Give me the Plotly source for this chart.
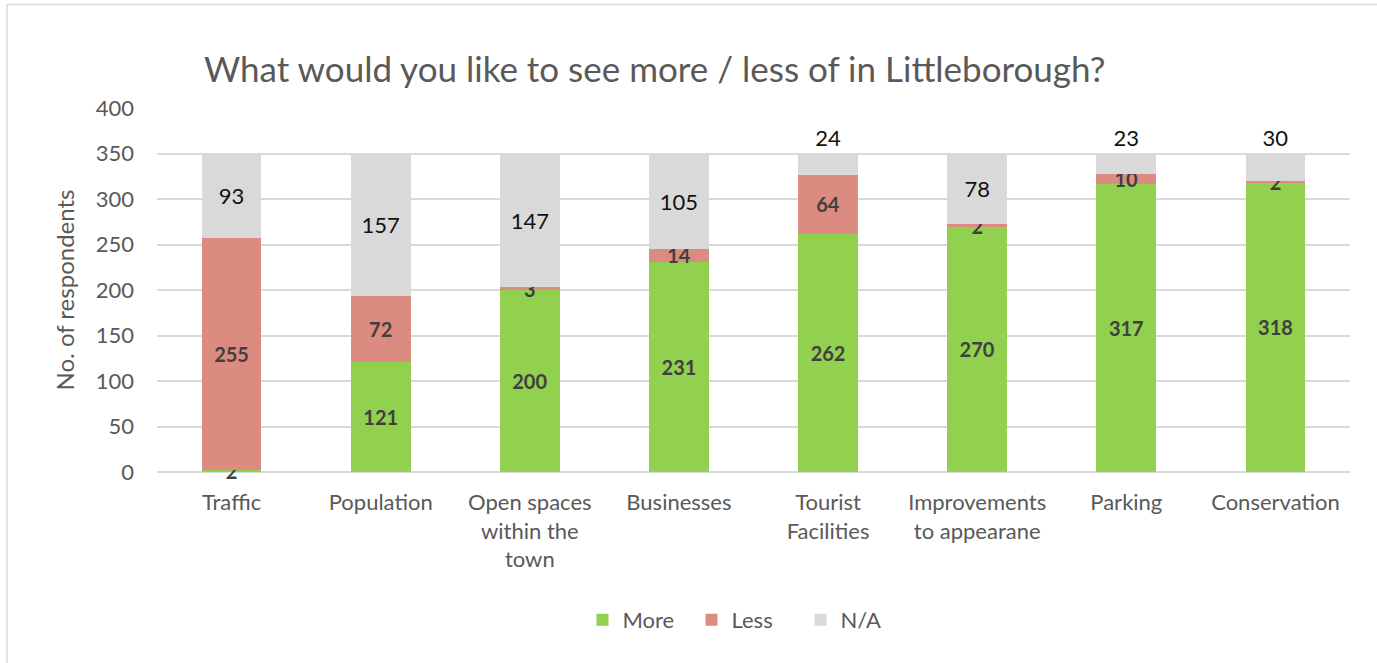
import plotly.graph_objects as go

# Survey results: what residents would like to see more / less of
categories = ["Traffic", "Population", "Open spaces<br>within the<br>town", "Businesses",
              "Tourist<br>Facilities", "Improvements<br>to appearane", "Parking", "Conservation"]
more = [2, 121, 200, 231, 262, 270, 317, 318]
less = [255, 72, 3, 14, 64, 2, 10, 2]
na = [93, 157, 147, 105, 24, 78, 23, 30]

FONT = "Lato"
GREY_TXT = "#595959"

W, H = 1377, 663
ML, MR, MT, MB = 157, 27, 108, 191
PW, PH = W - ML - MR, H - MT - MB


def px_x(x):
    return (x - ML) / PW


def px_y(y):
    return (H - MB - y) / PH


fig = go.Figure()

label_font = dict(family=FONT, size=20, color="#404040", weight="bold")
fig.add_trace(go.Bar(
    name="More", x=categories, y=more, marker=dict(color="#92D050", line=dict(width=0)),
    text=[str(v) for v in more], textposition="inside", insidetextanchor="middle",
    textangle=0, constraintext="none", insidetextfont=label_font, cliponaxis=False,
))
fig.add_trace(go.Bar(
    name="Less", x=categories, y=less, marker=dict(color="#DC8B80", line=dict(width=0)),
    text=[str(v) for v in less], textposition="inside", insidetextanchor="middle",
    textangle=0, constraintext="none", insidetextfont=label_font, cliponaxis=False,
))
# thin N/A segments get their label above the stack
na_pos = ["outside" if v < 40 else "inside" for v in na]
na_font = dict(family=FONT, size=22, color="#111111")
fig.add_trace(go.Bar(
    name="N/A", x=categories, y=na, marker=dict(color="#D9D9D9", line=dict(width=0)),
    text=[str(v) for v in na], textposition=na_pos, insidetextanchor="middle",
    textangle=0, constraintext="none", insidetextfont=na_font, outsidetextfont=na_font,
    cliponaxis=False,
))

fig.update_layout(
    width=W, height=H,
    barmode="stack", bargap=0.6,
    margin=dict(l=ML, r=MR, t=MT, b=MB),
    paper_bgcolor="white", plot_bgcolor="white",
    font=dict(family=FONT, color=GREY_TXT),
    showlegend=True,
    legend=dict(
        orientation="h", x=px_x(746), y=px_y(620), xanchor="center", yanchor="middle",
        font=dict(family=FONT, size=22, color=GREY_TXT), traceorder="normal",
        itemwidth=30, entrywidth=64, entrywidthmode="pixels",
    ),
    annotations=[dict(
        text="What would you like to see more / less of in Littleborough?",
        xref="paper", yref="paper", x=px_x(654), y=px_y(68),
        xanchor="center", yanchor="middle", showarrow=False,
        font=dict(family=FONT, size=35, color=GREY_TXT),
    )],
    shapes=[dict(
        type="rect", xref="paper", yref="paper",
        x0=px_x(7), x1=px_x(1400), y0=px_y(700), y1=px_y(4.5),
        line=dict(color="#D9D9D9", width=1.5), fillcolor="rgba(0,0,0,0)", layer="below",
    )],
)

fig.update_xaxes(
    showline=False, showgrid=False, ticks="",
    tickfont=dict(family=FONT, size=22, color=GREY_TXT),
    ticklabelstandoff=15,
)
fig.update_yaxes(
    range=[0, 400], dtick=50, showgrid=True, gridcolor="#D9D9D9", gridwidth=1.5,
    zeroline=True, zerolinecolor="#D9D9D9", zerolinewidth=1.5, ticks="",
    tickfont=dict(family=FONT, size=22, color=GREY_TXT), ticklabelstandoff=22,
    title=dict(text="No. of respondents", font=dict(family=FONT, size=24, color=GREY_TXT), standoff=14),
)

fig.write_html("out.html")
